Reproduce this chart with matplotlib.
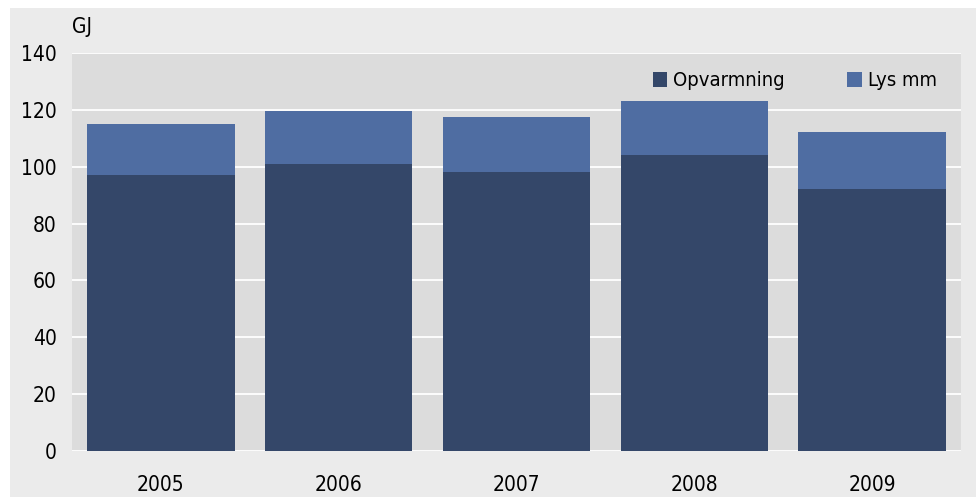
import matplotlib.pyplot as plt
from matplotlib.patches import Rectangle

years = ['2005', '2006', '2007', '2008', '2009']
opvarmning = [97, 101, 98, 104, 92]
lys_mm = [18, 18.6, 19.5, 19.2, 20.1]

plt.rcParams['font.family'] = ['DejaVu Sans']
plt.rcParams['font.stretch'] = 'condensed'

fig = plt.figure(figsize=(9.76, 4.97), dpi=100)
fig.patch.set_facecolor('white')
# lys grå baggrund bag hele diagrammet
fig.add_artist(Rectangle((10 / 976, 0), 1, 1 - 8 / 497, transform=fig.transFigure,
                         facecolor='#ebebeb', edgecolor='none', zorder=-5))

ax = fig.add_axes([72 / 976, 46 / 497, 889 / 976, 398 / 497])
ax.set_zorder(1)
ax.set_facecolor('#dcdcdc')

x = range(len(years))
ax.bar(x, opvarmning, width=0.83, color='#344769', label='Opvarmning', zorder=3)
ax.bar(x, lys_mm, width=0.83, bottom=opvarmning, color='#4f6da2', label='Lys mm', zorder=3)

ax.set_xlim(-0.5, 4.5)
ax.set_ylim(0, 140)
ax.set_yticks(range(0, 141, 20))
ax.set_xticks(list(x))
ax.set_xticklabels(years)
ax.yaxis.grid(True, color='white', linewidth=1.3, zorder=1)
ax.set_axisbelow(True)
for s in ax.spines.values():
    s.set_visible(False)
ax.tick_params(axis='both', length=0, labelsize=15, colors='black')
ax.tick_params(axis='y', pad=11)
ax.tick_params(axis='x', pad=17)

ax.text(0.0, 1.065, 'GJ', transform=ax.transAxes, fontsize=15, ha='left', va='center')

ax.legend(loc='center', bbox_to_anchor=(0.813, 0.93), ncol=2, frameon=False, fontsize=14.5,
          handlelength=0.72, handleheight=0.72, handletextpad=0.3, columnspacing=3.1)

fig.savefig('out.png', dpi=100, facecolor=fig.get_facecolor())
